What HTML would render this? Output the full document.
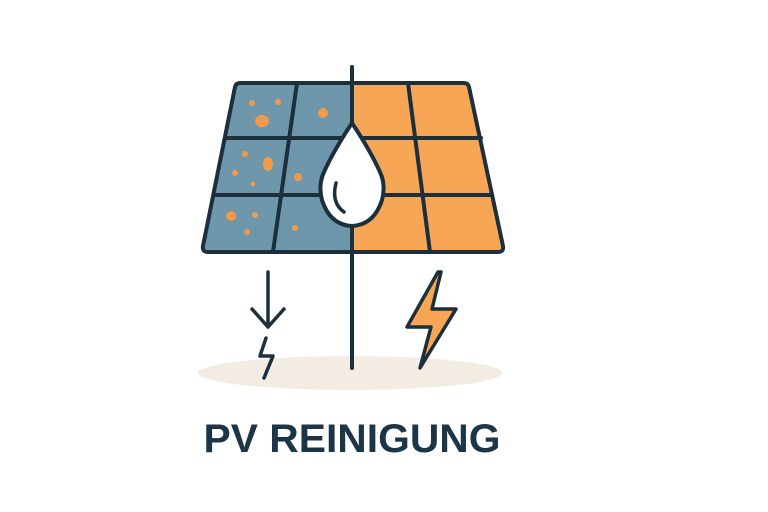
<!DOCTYPE html>
<html><head><style>html,body{margin:0;padding:0;background:#fff}svg{display:block}</style></head>
<body>
<svg width="768" height="512" viewBox="0 0 768 512">
<rect width="768" height="512" fill="#fff"/>
<ellipse cx="350" cy="373" rx="152" ry="17" fill="#f3ece3"/>
<defs>
<clipPath id="pan"><path d="M240 83 H464 Q468 83 469 87 L503 246 Q504 252 498 252 H208 Q202 252 203 246 L235 87 Q236 83 240 83Z"/></clipPath>
</defs>
<g clip-path="url(#pan)">
<rect x="190" y="70" width="162" height="190" fill="#6f97ab"/>
<rect x="352" y="70" width="160" height="190" fill="#f7a655"/>
<g fill="#f29a4c">
<circle cx="251" cy="84" r="0"/>
<circle cx="252" cy="103" r="3"/><circle cx="278" cy="102" r="3"/><ellipse cx="262" cy="121" rx="7" ry="6"/>
<circle cx="323" cy="113" r="5"/><circle cx="245" cy="154" r="3"/><ellipse cx="268" cy="164" rx="5" ry="7"/>
<circle cx="235" cy="173" r="3"/><circle cx="253" cy="184" r="2.5"/><circle cx="298" cy="177" r="4"/>
<circle cx="231" cy="216" r="5"/><circle cx="255" cy="215" r="3"/><circle cx="247" cy="232" r="3"/><circle cx="295" cy="228" r="3"/>
</g>
</g>
<g fill="none" stroke="#1c2f3c" stroke-width="4" stroke-linecap="round" stroke-linejoin="round">
<path d="M240 83 H464 Q468 83 469 87 L503 246 Q504 252 498 252 H208 Q202 252 203 246 L235 87 Q236 83 240 83Z"/>
<line x1="225" y1="138" x2="481" y2="138"/>
<line x1="215" y1="195" x2="492" y2="195"/>
<line x1="297" y1="83" x2="273" y2="252"/>
<line x1="408" y1="83" x2="430" y2="252"/>
<line x1="352" y1="67" x2="352" y2="368"/>
</g>
<path d="M352 123 Q334 150 324 172 Q318 185 322 200 Q330 225 352 226 Q374 225 382 200 Q386 185 380 172 Q370 150 352 123Z" fill="#fff" stroke="#1c2f3c" stroke-width="4" stroke-linejoin="round"/>
<path d="M336 183 Q331 203 344 212" fill="none" stroke="#1c2f3c" stroke-width="3.5" stroke-linecap="round"/>
<g fill="none" stroke="#1c2f3c" stroke-width="3.5" stroke-linecap="round" stroke-linejoin="round">
<line x1="268" y1="272" x2="268" y2="327"/>
<polyline points="252,309 268,327 284,309"/>
<polyline points="266,338 260,356 273,356 264,378"/>
</g>
<path d="M438 272 L407 327 L431 327 L420 368 L456 309 L432 309 L441 272Z" fill="#f7a655" stroke="#1c2f3c" stroke-width="3.5" stroke-linejoin="round"/>
<text x="352" y="452" text-anchor="middle" font-family="Liberation Sans, sans-serif" font-weight="bold" font-size="40" fill="#1d3647" textLength="297" lengthAdjust="spacingAndGlyphs">PV REINIGUNG</text>
</svg>
</body></html>
